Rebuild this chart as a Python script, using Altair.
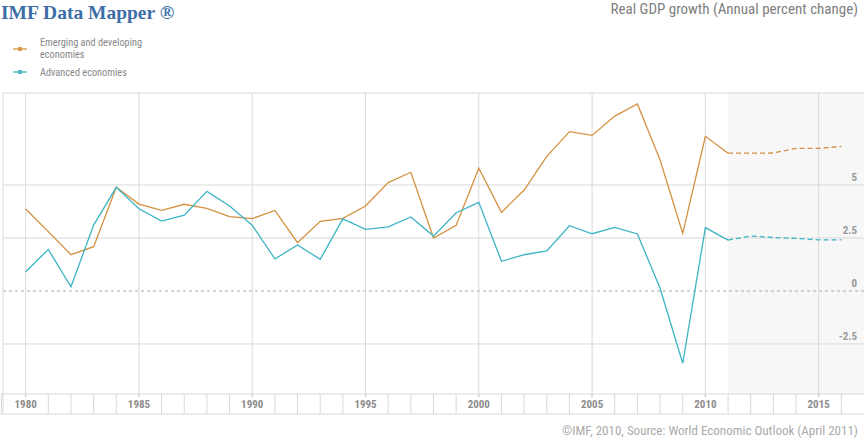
import altair as alt
import pandas as pd

years = list(range(1980, 2017))
emerging = [3.87, 2.80, 1.71, 2.09, 4.89, 4.10, 3.80, 4.09, 3.90, 3.51,
            3.41, 3.80, 2.28, 3.29, 3.43, 4.01, 5.11, 5.60, 2.50, 3.10,
            5.79, 3.71, 4.76, 6.35, 7.52, 7.34, 8.25, 8.82, 6.18, 2.72,
            7.30, 6.50, 6.50, 6.51, 6.73, 6.73, 6.82]
advanced = [0.91, 1.96, 0.20, 3.11, 4.89, 3.88, 3.30, 3.58, 4.70, 4.01,
            3.10, 1.51, 2.17, 1.49, 3.40, 2.91, 3.02, 3.49, 2.59, 3.69,
            4.18, 1.40, 1.71, 1.89, 3.08, 2.70, 3.00, 2.69, 0.13, -3.41,
            2.99, 2.40, 2.59, 2.52, 2.48, 2.41, 2.41]
series_names = ["Emerging and developing economies", "Advanced economies"]
series_colors = ["#d4913f", "#3bb4c5"]
proj_start = 2011
y_ticks = [5, 2.5, -2.5]
y_labels = ["5", "2.5", "0", "-2.5"]
y_label_vals = [5, 2.5, 0, -2.5]
x_label_years = [1980, 1985, 1990, 1995, 2000, 2005, 2010, 2015]

NARROW = "Liberation Sans Narrow, Arial Narrow, Roboto Condensed, Liberation Sans, sans-serif"
W, H = 861, 301
XDOM = [1979, 2017]
YDOM = [-4.86, 9.34]

rows = []
for name, vals in zip(series_names, [emerging, advanced]):
    for yr, v in zip(years, vals):
        rows.append({"year": yr, "value": v, "series": name})
df = pd.DataFrame(rows)

xs = alt.Scale(domain=XDOM, nice=False, zero=False)
ys = alt.Scale(domain=YDOM, nice=False, zero=False)
color = alt.Color("series:N", scale=alt.Scale(domain=series_names, range=series_colors), legend=None)

shade = alt.Chart(pd.DataFrame({"x": [proj_start], "x2": [XDOM[1]]})).mark_rect(color="#f7f7f7").encode(
    x=alt.X("x:Q", scale=xs, axis=None), x2="x2:Q", y=alt.value(0), y2=alt.value(H))

hgrid = alt.Chart(pd.DataFrame({"v": y_ticks})).mark_rule(color="#d9d9d9", strokeWidth=1).encode(
    y=alt.Y("v:Q", scale=ys, axis=None), x=alt.value(0), x2=alt.value(W))
zero = alt.Chart(pd.DataFrame({"v": [0]})).mark_rule(color="#aaaaaa", strokeDash=[3, 3], strokeWidth=1).encode(
    y=alt.Y("v:Q", scale=ys, axis=None), x=alt.value(0), x2=alt.value(W))

vgrid = alt.Chart(pd.DataFrame({"yr": x_label_years})).mark_rule(color="#d9d9d9", strokeWidth=1).encode(
    x=alt.X("yr:Q", scale=xs, axis=None), y=alt.value(0), y2=alt.value(H))

top_border = alt.Chart(pd.DataFrame({"a": [0]})).mark_rule(color="#d9d9d9").encode(
    x=alt.value(0), x2=alt.value(W), y=alt.value(0))
left_border = alt.Chart(pd.DataFrame({"a": [0]})).mark_rule(color="#d9d9d9").encode(
    x=alt.value(0), y=alt.value(0), y2=alt.value(H + 20))
band_lines = alt.Chart(pd.DataFrame({"yy": [H, H + 20]})).mark_rule(color="#d9d9d9").encode(
    x=alt.value(-2), x2=alt.value(W), y=alt.Y("yy:Q", scale=None))
band_left = alt.Chart(pd.DataFrame({"a": [0]})).mark_rule(color="#d9d9d9").encode(
    x=alt.value(-1.5), y=alt.value(H), y2=alt.value(H + 20))

sep_years = [y for y in years if y % 5 != 0]
band_sep = alt.Chart(pd.DataFrame({"yr": sep_years})).mark_rule(color="#d9d9d9").encode(
    x=alt.X("yr:Q", scale=xs, axis=None), y=alt.value(H), y2=alt.value(H + 20))
band_ticks = alt.Chart(pd.DataFrame({"yr": x_label_years})).mark_rule(color="#d0d0d0", strokeWidth=1.5).encode(
    x=alt.X("yr:Q", scale=xs, axis=None), y=alt.value(H), y2=alt.value(H + 3))
band_labels = alt.Chart(pd.DataFrame({"yr": x_label_years, "t": [str(y) for y in x_label_years]})).mark_text(
    font=NARROW, fontSize=11, fontWeight="bold", color="#8c8c8c", baseline="middle", align="center").encode(
    x=alt.X("yr:Q", scale=xs, axis=None), y=alt.value(H + 11), text="t:N")

ylab = alt.Chart(pd.DataFrame({"v": y_label_vals, "t": y_labels})).mark_text(
    font=NARROW, fontSize=11, fontWeight="bold", color="#999999", align="right", baseline="bottom", dy=-2).encode(
    y=alt.Y("v:Q", scale=ys, axis=None), x=alt.value(854), text="t:N")

base = alt.Chart(df).encode(
    x=alt.X("year:Q", scale=xs, axis=None),
    y=alt.Y("value:Q", scale=ys, axis=None),
    color=color,
    detail="series:N")
hist = base.transform_filter(alt.datum.year <= proj_start).mark_line(strokeWidth=1.3)
proj = base.transform_filter(alt.datum.year >= proj_start).mark_line(strokeWidth=1.3, strokeDash=[5, 3])

title = alt.Chart(pd.DataFrame({"t": ["IMF Data Mapper \u00ae"]})).mark_text(
    font="Liberation Serif", fontSize=19.5, fontWeight="bold", color="#3d6ea8", align="left", baseline="alphabetic").encode(
    x=alt.value(-2), y=alt.value(19 - 93), text="t:N")
rtitle = alt.Chart(pd.DataFrame({"t": ["Real GDP growth (Annual percent change)"]})).mark_text(
    font=NARROW, fontSize=15, color="#808080", align="right", baseline="alphabetic").encode(
    x=alt.value(855), y=alt.value(14 - 93), text="t:N")
credit = alt.Chart(pd.DataFrame({"t": ["\u00a9IMF, 2010, Source: World Economic Outlook (April 2011)"]})).mark_text(
    font=NARROW, fontSize=13, color="#aaaaaa", align="right", baseline="alphabetic").encode(
    x=alt.value(855), y=alt.value(435 - 93), text="t:N")

leg_df = pd.DataFrame({"series": series_names, "yy": [49 - 93, 72 - 93]})
leg_line = alt.Chart(leg_df).mark_rule(strokeWidth=1.3).encode(
    x=alt.value(10), x2=alt.value(24), y=alt.Y("yy:Q", scale=None), color=color)
leg_box = alt.Chart(leg_df).mark_square(size=14, opacity=1, filled=True).encode(
    x=alt.value(17), y=alt.Y("yy:Q", scale=None), color=color)
leg_text_df = pd.DataFrame({"t": ["Emerging and developing", "economies", "Advanced economies"],
                            "yy": [43 - 93, 54.5 - 93, 73 - 93]})
leg_text = alt.Chart(leg_text_df).mark_text(
    font=NARROW, fontSize=10.3, color="#888888", align="left", baseline="middle").encode(
    x=alt.value(37), y=alt.Y("yy:Q", scale=None), text="t:N")

chart = alt.layer(
    shade, hgrid, zero, vgrid, top_border, left_border, band_lines, band_left, band_sep, band_ticks,
    band_labels, ylab, hist, proj, title, rtitle, credit, leg_line, leg_box, leg_text
).properties(
    width=W, height=H,
    padding={"left": 3, "top": 93, "right": 0, "bottom": 47},
    autosize=alt.AutoSizeParams(type="none"),
    background="white"
).configure_view(stroke=None)

chart.save("out.html", embed_options={"renderer": "svg", "actions": False})
